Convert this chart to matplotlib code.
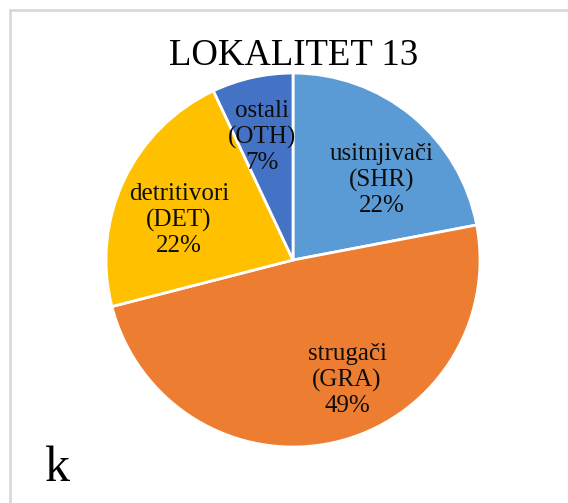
import matplotlib.pyplot as plt
from matplotlib.patches import Rectangle

plt.rcParams['font.family'] = ['Liberation Serif', 'DejaVu Serif']

# Functional feeding groups, locality 13
labels = ['usitnjivači\n(SHR)', 'strugači\n(GRA)', 'detritivori\n(DET)', 'ostali\n(OTH)']
shares = [22, 49, 22, 7]
colors = ['#5B9BD5', '#ED7D31', '#FFC000', '#4472C4']
# where the data labels sit, in units of the pie radius (Excel-like placement)
label_pos = [(0.476, 0.428), (0.289, -0.642), (-0.61, 0.214), (-0.166, 0.658)]

fig = plt.figure(figsize=(5.68, 5.03), dpi=100)

# light grey frame of the chart area
fig.patches.append(Rectangle((10 / 568, -0.1), 1.2, 1.1 - 10 / 503, transform=fig.transFigure,
                             fill=False, edgecolor='#d9d9d9', linewidth=2))

ax = fig.add_axes([0.1866, 0.1113, 0.6585, 0.7435])

texts = iter(labels)
wedges, _, autotexts = ax.pie(
    shares, colors=colors, startangle=90, counterclock=False,
    wedgeprops=dict(edgecolor='white', linewidth=2),
    autopct=lambda p: f'{next(texts)}\n{p:.0f}%',
    textprops=dict(fontsize=18, color='#0d0d0d', linespacing=1.2))
for t, pos in zip(autotexts, label_pos):
    t.set_position(pos)
ax.set_xlim(-1, 1)
ax.set_ylim(-1, 1)
ax.set_aspect('equal')

fig.text(0.516, 0.889, 'LOKALITET 13', ha='center', va='center', fontsize=26.5)
fig.text(0.102, 0.069, 'k', ha='center', va='center', fontsize=36)

fig.savefig('out.png', dpi=100)
